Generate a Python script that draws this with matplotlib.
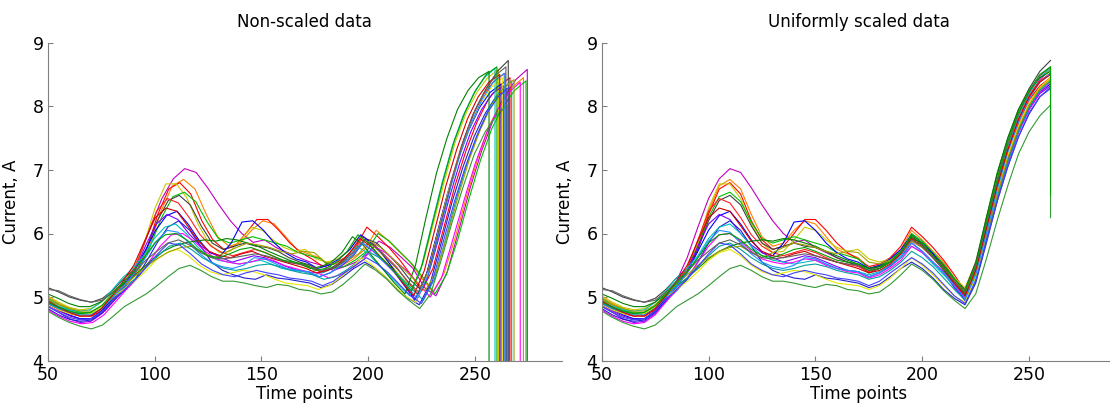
import matplotlib
matplotlib.use('Agg')
import matplotlib.pyplot as plt
import numpy as np

# time grid of the uniformly scaled series (right panel), every 5 points
t_scaled = np.arange(50, 261, 5)

# current, A read at each point of t_scaled, one row per recording
current = [
    [4.88, 4.78, 4.70, 4.65, 4.66, 4.78, 4.98, 5.25, 5.62, 6.10, 6.55, 6.86, 7.02, 6.96, 6.72, 6.45, 6.20, 6.00, 5.86, 5.90, 5.78, 5.70, 5.62, 5.55, 5.50, 5.42, 5.48, 5.55, 5.68, 5.88, 5.78, 5.62, 5.45, 5.15, 5.02, 5.40, 6.05, 6.72, 7.30, 7.78, 8.15, 8.42, 8.58],
    [5.00, 4.90, 4.82, 4.76, 4.74, 4.84, 5.02, 5.20, 5.40, 5.80, 6.35, 6.75, 6.85, 6.70, 6.30, 5.95, 5.80, 5.85, 6.05, 6.20, 6.15, 5.95, 5.75, 5.68, 5.62, 5.45, 5.50, 5.60, 5.75, 6.05, 5.90, 5.72, 5.55, 5.30, 5.08, 5.38, 5.95, 6.60, 7.20, 7.70, 8.05, 8.30, 8.45],
    [4.95, 4.85, 4.78, 4.72, 4.70, 4.80, 4.98, 5.18, 5.38, 5.75, 6.30, 6.70, 6.80, 6.62, 6.20, 5.90, 5.75, 5.80, 6.00, 6.22, 6.22, 6.05, 5.85, 5.70, 5.60, 5.48, 5.52, 5.62, 5.80, 6.10, 5.95, 5.78, 5.58, 5.35, 5.10, 5.45, 6.10, 6.75, 7.30, 7.75, 8.10, 8.32, 8.45],
    [5.02, 4.92, 4.84, 4.80, 4.82, 4.92, 5.08, 5.22, 5.42, 5.85, 6.40, 6.78, 6.78, 6.55, 6.15, 5.85, 5.70, 5.72, 5.90, 6.10, 6.05, 5.90, 5.78, 5.72, 5.75, 5.60, 5.55, 5.60, 5.72, 5.95, 5.85, 5.70, 5.50, 5.30, 5.15, 5.55, 6.20, 6.85, 7.45, 7.90, 8.22, 8.45, 8.58],
    [4.98, 4.88, 4.80, 4.75, 4.76, 4.86, 5.05, 5.25, 5.45, 5.80, 6.25, 6.58, 6.65, 6.50, 6.18, 5.92, 5.85, 5.90, 5.95, 5.90, 5.85, 5.80, 5.70, 5.65, 5.60, 5.45, 5.48, 5.58, 5.72, 6.00, 5.88, 5.70, 5.52, 5.30, 5.05, 5.35, 5.90, 6.55, 7.15, 7.65, 8.00, 8.25, 8.40],
    [5.15, 5.08, 5.00, 4.95, 4.92, 4.98, 5.12, 5.30, 5.45, 5.75, 6.20, 6.52, 6.60, 6.45, 6.12, 5.85, 5.75, 5.80, 5.85, 5.80, 5.78, 5.72, 5.62, 5.55, 5.50, 5.38, 5.45, 5.55, 5.68, 5.92, 5.85, 5.68, 5.50, 5.28, 5.12, 5.55, 6.25, 6.92, 7.50, 7.95, 8.28, 8.55, 8.72],
    [4.92, 4.82, 4.74, 4.70, 4.72, 4.84, 5.02, 5.22, 5.45, 5.90, 6.35, 6.55, 6.48, 6.25, 5.98, 5.80, 5.70, 5.65, 5.70, 5.75, 5.70, 5.62, 5.55, 5.52, 5.48, 5.40, 5.45, 5.55, 5.70, 5.95, 5.82, 5.65, 5.48, 5.25, 5.05, 5.45, 6.15, 6.80, 7.38, 7.85, 8.18, 8.40, 8.52],
    [4.90, 4.80, 4.72, 4.66, 4.66, 4.78, 4.98, 5.18, 5.40, 5.72, 6.05, 6.28, 6.35, 6.15, 5.90, 5.70, 5.65, 5.85, 6.18, 6.20, 6.05, 5.85, 5.70, 5.60, 5.55, 5.45, 5.50, 5.60, 5.75, 5.98, 5.85, 5.68, 5.45, 5.20, 4.95, 5.30, 5.95, 6.60, 7.15, 7.62, 7.98, 8.22, 8.35],
    [4.86, 4.76, 4.66, 4.60, 4.62, 4.74, 4.94, 5.16, 5.40, 5.80, 6.15, 6.30, 6.22, 6.00, 5.82, 5.70, 5.62, 5.55, 5.60, 5.65, 5.62, 5.55, 5.48, 5.42, 5.40, 5.32, 5.38, 5.48, 5.62, 5.85, 5.72, 5.55, 5.38, 5.15, 4.95, 5.30, 5.90, 6.55, 7.12, 7.60, 7.95, 8.20, 8.32],
    [4.82, 4.72, 4.65, 4.62, 4.64, 4.76, 4.94, 5.10, 5.28, 5.55, 5.85, 6.10, 6.20, 6.05, 5.80, 5.55, 5.42, 5.35, 5.30, 5.28, 5.35, 5.30, 5.28, 5.25, 5.22, 5.15, 5.20, 5.32, 5.45, 5.55, 5.45, 5.30, 5.12, 4.98, 4.88, 5.22, 5.85, 6.50, 7.05, 7.52, 7.88, 8.15, 8.28],
    [4.95, 4.86, 4.80, 4.78, 4.80, 4.92, 5.10, 5.30, 5.45, 5.65, 5.92, 6.10, 6.15, 6.00, 5.80, 5.65, 5.58, 5.55, 5.52, 5.55, 5.58, 5.52, 5.45, 5.42, 5.40, 5.35, 5.40, 5.50, 5.62, 5.80, 5.70, 5.52, 5.35, 5.18, 5.02, 5.42, 6.10, 6.78, 7.38, 7.85, 8.20, 8.45, 8.60],
    [4.80, 4.70, 4.62, 4.58, 4.60, 4.72, 4.92, 5.12, 5.30, 5.55, 5.80, 5.98, 6.00, 5.88, 5.72, 5.60, 5.55, 5.52, 5.55, 5.60, 5.58, 5.50, 5.45, 5.40, 5.38, 5.30, 5.35, 5.45, 5.58, 5.80, 5.70, 5.55, 5.40, 5.20, 5.00, 5.30, 5.90, 6.52, 7.10, 7.58, 7.95, 8.22, 8.38],
    [5.05, 4.98, 4.90, 4.85, 4.85, 4.92, 5.05, 5.18, 5.30, 5.45, 5.60, 5.72, 5.80, 5.85, 5.88, 5.90, 5.88, 5.92, 5.90, 5.85, 5.80, 5.72, 5.65, 5.58, 5.52, 5.45, 5.48, 5.55, 5.70, 5.95, 5.82, 5.62, 5.42, 5.22, 5.05, 5.50, 6.25, 6.95, 7.50, 7.95, 8.25, 8.45, 8.55],
    [4.92, 4.84, 4.78, 4.74, 4.74, 4.84, 5.00, 5.16, 5.30, 5.48, 5.65, 5.80, 5.85, 5.75, 5.62, 5.52, 5.45, 5.42, 5.45, 5.50, 5.52, 5.48, 5.42, 5.38, 5.35, 5.28, 5.32, 5.42, 5.55, 5.72, 5.62, 5.48, 5.30, 5.12, 4.95, 5.28, 5.90, 6.55, 7.12, 7.60, 7.98, 8.25, 8.40],
    [4.88, 4.80, 4.74, 4.72, 4.74, 4.84, 5.00, 5.12, 5.25, 5.40, 5.58, 5.70, 5.75, 5.65, 5.50, 5.40, 5.35, 5.38, 5.42, 5.40, 5.35, 5.28, 5.22, 5.20, 5.18, 5.12, 5.18, 5.30, 5.45, 5.62, 5.50, 5.35, 5.18, 5.02, 4.92, 5.32, 5.98, 6.65, 7.22, 7.68, 8.05, 8.30, 8.45],
    [4.96, 4.88, 4.82, 4.78, 4.78, 4.88, 5.04, 5.20, 5.35, 5.50, 5.62, 5.72, 5.78, 5.80, 5.70, 5.62, 5.70, 5.78, 5.85, 5.82, 5.78, 5.72, 5.68, 5.72, 5.70, 5.55, 5.52, 5.58, 5.68, 5.88, 5.78, 5.62, 5.45, 5.28, 5.10, 5.40, 5.98, 6.60, 7.18, 7.65, 8.02, 8.28, 8.42],
    [4.78, 4.68, 4.60, 4.54, 4.50, 4.56, 4.70, 4.85, 4.95, 5.05, 5.18, 5.32, 5.45, 5.50, 5.42, 5.32, 5.25, 5.25, 5.22, 5.18, 5.15, 5.20, 5.18, 5.12, 5.10, 5.05, 5.08, 5.20, 5.35, 5.52, 5.42, 5.28, 5.10, 4.95, 4.82, 5.05, 5.60, 6.20, 6.75, 7.25, 7.60, 7.85, 8.02],
    [4.90, 4.82, 4.76, 4.72, 4.72, 4.82, 5.00, 5.18, 5.38, 5.62, 5.88, 6.05, 6.02, 5.85, 5.68, 5.55, 5.48, 5.45, 5.50, 5.62, 5.60, 5.52, 5.45, 5.42, 5.40, 5.32, 5.38, 5.50, 5.65, 5.85, 5.72, 5.55, 5.38, 5.18, 4.98, 5.35, 6.00, 6.68, 7.28, 7.75, 8.12, 8.38, 8.52],
    [4.94, 4.84, 4.76, 4.70, 4.70, 4.82, 5.02, 5.25, 5.50, 5.88, 6.25, 6.40, 6.35, 6.12, 5.88, 5.72, 5.65, 5.62, 5.68, 5.72, 5.65, 5.60, 5.55, 5.50, 5.45, 5.38, 5.42, 5.52, 5.68, 5.92, 5.80, 5.62, 5.45, 5.22, 5.02, 5.42, 6.08, 6.75, 7.32, 7.80, 8.15, 8.38, 8.50],
    [4.85, 4.76, 4.68, 4.64, 4.66, 4.78, 4.96, 5.12, 5.28, 5.48, 5.68, 5.85, 5.82, 5.68, 5.52, 5.42, 5.35, 5.32, 5.38, 5.42, 5.38, 5.35, 5.30, 5.28, 5.25, 5.18, 5.25, 5.38, 5.50, 5.62, 5.52, 5.38, 5.20, 5.02, 4.90, 5.25, 5.88, 6.50, 7.05, 7.52, 7.90, 8.15, 8.30],
    [5.12, 5.10, 5.02, 4.96, 4.92, 4.95, 5.08, 5.25, 5.40, 5.58, 5.72, 5.85, 5.90, 5.82, 5.70, 5.62, 5.60, 5.62, 5.65, 5.68, 5.65, 5.60, 5.55, 5.52, 5.50, 5.42, 5.45, 5.55, 5.70, 5.90, 5.80, 5.62, 5.45, 5.25, 5.08, 5.48, 6.15, 6.82, 7.40, 7.88, 8.22, 8.48, 8.62],
    [4.92, 4.84, 4.78, 4.74, 4.76, 4.86, 5.04, 5.22, 5.40, 5.62, 5.85, 5.98, 6.00, 5.90, 5.75, 5.65, 5.62, 5.68, 5.75, 5.78, 5.72, 5.65, 5.58, 5.55, 5.52, 5.42, 5.45, 5.55, 5.72, 5.98, 5.85, 5.65, 5.48, 5.28, 5.10, 5.50, 6.18, 6.85, 7.45, 7.90, 8.25, 8.50, 8.62],
]

# last time point of each raw (non-scaled) recording
end_raw = [274.4, 272.6, 266.3, 260.9, 273.8, 265.5, 264.0, 262.1, 263.2, 264.8, 259.3,
           271.1, 256.5, 267.1, 262.7, 268.2, 265.0, 263.6, 261.5, 266.0, 264.4, 260.2]
# value after the last point in the scaled data (nan = no drop)
drop_scaled = [np.nan] * 16 + [6.25, np.nan, 7.4, np.nan, np.nan, 6.6]

colors = ['#c000c0', '#ff8000', '#ff0000', '#c8c800', '#00c000', '#404040', '#ff2020',
          '#0000ff', '#8000ff', '#2020d0', '#00c0c0', '#ff00ff', '#008000', '#00a0a0',
          '#e6e600', '#a0a000', '#339933', '#1e90ff', '#d00000', '#4040ff', '#606060', '#00a000']

fig = plt.figure(figsize=(11.1, 4.04), dpi=100)
ax1 = fig.add_axes([47.7 / 1110, 43.3 / 404, 514 / 1110, 318 / 404])
ax2 = fig.add_axes([601.7 / 1110, 43.3 / 404, 514 / 1110, 318 / 404])

for y, end, c in zip(current, end_raw, colors):
    x = 50 + (t_scaled - 50) * (end - 50) / (t_scaled[-1] - 50)
    ax1.plot(np.append(x, end), np.append(y, 0.0), color=c, lw=0.8)

for y, d, c in zip(current, drop_scaled, colors):
    if np.isnan(d):
        ax2.plot(t_scaled, y, color=c, lw=0.8)
    else:
        ax2.plot(np.append(t_scaled, t_scaled[-1]), np.append(y, d), color=c, lw=0.8)

for ax, title in [(ax1, 'Non-scaled data'), (ax2, 'Uniformly scaled data')]:
    ax.set_xlim(50, 290.5)
    ax.set_ylim(4, 9)
    ax.set_xticks([50, 100, 150, 200, 250])
    ax.set_yticks([4, 5, 6, 7, 8, 9])
    ax.spines['top'].set_visible(False)
    ax.spines['right'].set_visible(False)
    ax.spines['left'].set_color('#808080')
    ax.spines['bottom'].set_color('#808080')
    ax.tick_params(direction='in', length=3.5, color='#808080', labelsize=12.5)
    ax.tick_params(axis='x', pad=4)
    ax.tick_params(axis='y', pad=3)
    ax.set_title(title, fontsize=12, pad=11)
    ax.set_xlabel('Time points', fontsize=12)
    ax.set_ylabel('Current, A', fontsize=12)
    ax.xaxis.set_label_coords(0.5, -0.075)
    ax.yaxis.set_label_coords(-0.053, 0.5)

fig.savefig('out.png', dpi=100)
